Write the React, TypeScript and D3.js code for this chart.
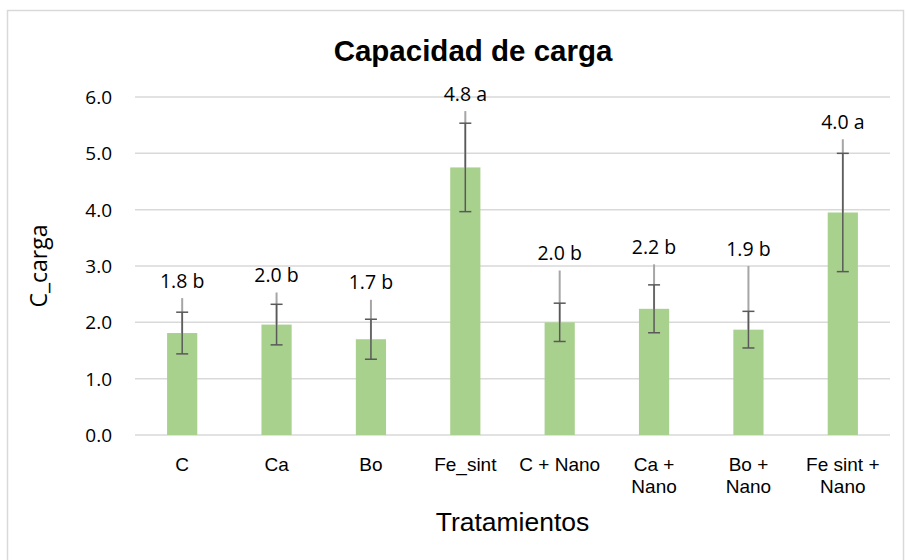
import React, { useEffect, useRef } from 'react';
import * as d3 from 'd3';

// Tratamientos
const categories = [
  ['C'],
  ['Ca'],
  ['Bo'],
  ['Fe_sint'],
  ['C + Nano'],
  ['Ca +', 'Nano'],
  ['Bo +', 'Nano'],
  ['Fe sint +', 'Nano']
];
// mean C_carga
const values = [1.81, 1.96, 1.70, 4.75, 2.0, 2.24, 1.87, 3.95];
// dark capped error bar (+/-)
const errSE = [0.37, 0.36, 0.355, 0.785, 0.34, 0.425, 0.325, 1.05];
// light plus-only error line
const errPlus = [0.62, 0.57, 0.70, 1.0, 0.92, 0.79, 1.13, 1.30];
const dataLabels = ['1.8 b', '2.0 b', '1.7 b', '4.8 a', '2.0 b', '2.2 b', '1.9 b', '4.0 a'];
const yTicks = [0, 1, 2, 3, 4, 5, 6];

export default function App() {
  const svgRef = useRef<SVGSVGElement>(null);

  useEffect(() => {
    const svg = d3.select(svgRef.current);
    svg.selectAll('*').remove();

    const width = 906;
    const height = 560;
    const plot = { left: 135, right: 890, top: 97, bottom: 435 };
    const calibri = '"Open Sans", sans-serif';
    const arial = '"Liberation Sans", Arial, sans-serif';

    // outer chart border
    svg.append('rect')
      .attr('x', 7.5).attr('y', 10.5)
      .attr('width', 896).attr('height', 560)
      .attr('fill', '#fff')
      .attr('stroke', '#d9d9d9')
      .attr('stroke-width', 1.5);

    const x = d3.scaleBand<number>()
      .domain(values.map((_, i) => i))
      .range([plot.left, plot.right])
      .paddingInner(0.68)
      .paddingOuter(0.34);
    const y = d3.scaleLinear().domain([0, 6]).range([plot.bottom, plot.top]);

    // gridlines
    svg.append('g')
      .selectAll('line')
      .data(yTicks)
      .join('line')
      .attr('x1', plot.left).attr('x2', plot.right)
      .attr('y1', d => y(d)).attr('y2', d => y(d))
      .attr('stroke', '#d9d9d9')
      .attr('stroke-width', 1.5);

    // y tick labels
    svg.append('g')
      .selectAll('text')
      .data(yTicks)
      .join('text')
      .attr('x', 112)
      .attr('y', d => y(d))
      .attr('text-anchor', 'end')
      .attr('dominant-baseline', 'central')
      .attr('font-family', calibri)
      .attr('font-size', 19)
      .attr('fill', '#000')
      .text(d => d.toFixed(1));

    // bars
    svg.append('g')
      .selectAll('rect')
      .data(values)
      .join('rect')
      .attr('x', (_, i) => x(i)!)
      .attr('width', x.bandwidth())
      .attr('y', d => y(d))
      .attr('height', d => y(0) - y(d))
      .attr('fill', '#a9d18e');

    const cx = (i: number) => x(i)! + x.bandwidth() / 2;

    // light plus-only error line
    svg.append('g')
      .selectAll('line')
      .data(values)
      .join('line')
      .attr('x1', (_, i) => cx(i)).attr('x2', (_, i) => cx(i))
      .attr('y1', d => y(d))
      .attr('y2', (d, i) => y(d + errPlus[i]))
      .attr('stroke', '#a6a6a6')
      .attr('stroke-width', 2);

    // dark capped error bars
    const eb = svg.append('g')
      .attr('stroke', '#595959')
      .attr('stroke-width', 1.5);
    values.forEach((v, i) => {
      const hi = y(v + errSE[i]);
      const lo = y(v - errSE[i]);
      eb.append('line').attr('x1', cx(i)).attr('x2', cx(i)).attr('y1', hi).attr('y2', lo);
      eb.append('line').attr('x1', cx(i) - 6).attr('x2', cx(i) + 6).attr('y1', hi).attr('y2', hi);
      eb.append('line').attr('x1', cx(i) - 6).attr('x2', cx(i) + 6).attr('y1', lo).attr('y2', lo);
    });

    // data labels
    svg.append('g')
      .selectAll('text')
      .data(values)
      .join('text')
      .attr('x', (_, i) => cx(i))
      .attr('y', (d, i) => y(d + errPlus[i]) - 18)
      .attr('text-anchor', 'middle')
      .attr('dominant-baseline', 'central')
      .attr('font-family', calibri)
      .attr('font-size', 19.5)
      .attr('fill', '#000')
      .text((_, i) => dataLabels[i]);

    // x category labels
    const xl = svg.append('g')
      .attr('font-family', arial)
      .attr('font-size', 19)
      .attr('fill', '#000')
      .attr('text-anchor', 'middle');
    categories.forEach((lines, i) => {
      lines.forEach((t, k) => {
        xl.append('text')
          .attr('x', cx(i))
          .attr('y', 471 + k * 22)
          .text(t);
      });
    });

    // title
    svg.append('text')
      .attr('x', 473)
      .attr('y', 61)
      .attr('text-anchor', 'middle')
      .attr('font-family', arial)
      .attr('font-weight', 'bold')
      .attr('font-size', 29.5)
      .attr('fill', '#000')
      .text('Capacidad de carga');

    // axis titles
    svg.append('text')
      .attr('transform', `translate(38,${(plot.top + plot.bottom) / 2}) rotate(-90)`)
      .attr('text-anchor', 'middle')
      .attr('dominant-baseline', 'central')
      .attr('font-family', calibri)
      .attr('font-size', 23)
      .attr('fill', '#000')
      .text('C_carga');

    svg.append('text')
      .attr('x', (plot.left + plot.right) / 2)
      .attr('y', 531)
      .attr('text-anchor', 'middle')
      .attr('font-family', arial)
      .attr('font-size', 26.5)
      .attr('fill', '#000')
      .text('Tratamientos');

    svg.attr('width', width).attr('height', height);
  }, []);

  return (
    <svg
      ref={svgRef}
      width={906}
      height={560}
      style={{ position: 'absolute', left: 0, top: 0, background: '#fff' }}
    />
  );
}
